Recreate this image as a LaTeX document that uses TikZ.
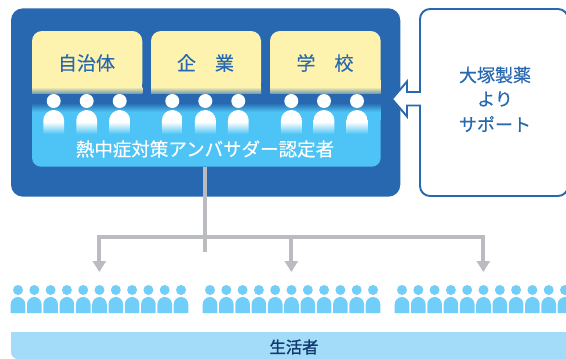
\documentclass[tikz,border=0pt]{standalone}
\usepackage{fontspec}
\setmainfont{Noto Sans CJK JP}[FakeBold=0.35]
\newfontfamily\heavyfont{Noto Sans CJK JP}[FakeBold=1.4]
\usetikzlibrary{arrows.meta}
\definecolor{deepblue}{HTML}{2868B0}
\definecolor{paleyellow}{HTML}{FDF3AE}
\definecolor{skyblue}{HTML}{4DC4F5}
\definecolor{crowdblue}{HTML}{70CEF9}
\definecolor{bandblue}{HTML}{A3DCF9}
\definecolor{linkgrey}{HTML}{BBBCC0}
\definecolor{navytext}{HTML}{123A70}
\tikzset{
  label text/.style={font=\fontsize{19}{21}\selectfont,text=deepblue,inner sep=0pt},
  side text/.style={font=\fontsize{18}{20}\selectfont,text=deepblue,inner sep=0pt},
  panel text/.style={font=\fontsize{18.5}{20}\selectfont,text=white,inner sep=0pt},
  band text/.style={font=\heavyfont\fontsize{16.3}{18}\selectfont,text=navytext,inner sep=0pt},
  link/.style={draw=linkgrey,line width=4.2pt},
  link arrow/.style={link,-{Triangle[width=13pt,length=11pt]}},
  support/.style={draw=deepblue,fill=white,line width=1.9pt,line join=miter}
}
\newcommand{\ambassador}[1]{%
  \fill[white] (#1,101) circle[radius=7pt];
  \shade[top color=white,bottom color=skyblue,middle color=white]
    (#1-10.4,134) -- (#1-10.4,120.4) arc[start angle=180,end angle=0,radius=10.4pt] -- (#1+10.4,134) -- cycle;
}
\newcommand{\citizen}[1]{%
  \fill[crowdblue] (#1,290) circle[radius=5pt];
  \fill[crowdblue] (#1-7.3,313) -- (#1-7.3,304.3) arc[start angle=180,end angle=0,radius=7.3pt] -- (#1+7.3,313) -- cycle;
}
\begin{document}
\begin{tikzpicture}[x=1pt,y=-1pt]
\useasboundingbox (0,0) rectangle (566,359);
\clip (0,0) rectangle (566,359);
% outer blue box
\fill[deepblue,rounded corners=12pt] (11,8.3) rectangle (400.3,196.7);
% yellow boxes
\foreach \l/\r in {32/142.3,151/261,270/380.7}{
  \fill[paleyellow,rounded corners=10pt] (\l,31) -- (\l,93) -- (\r,93) -- (\r,31) -- cycle;
  \fill[paleyellow] (\l,80) rectangle (\r,93);
  \shade[top color=paleyellow,bottom color=deepblue!60!paleyellow] (\l,87) rectangle (\r,93);
}
% light blue panel
\fill[skyblue,rounded corners=9pt] (32,104) -- (32,166.7) -- (380.7,166.7) -- (380.7,104) -- cycle;
\fill[skyblue] (32,104) rectangle (380.7,120);
\shade[top color=deepblue,bottom color=skyblue] (32,103) rectangle (380.7,112);
% people
\foreach \x in {53.7,86.7,119.7,172.3,205.3,238.3,291.3,324,357}{\ambassador{\x}}
% labels
\node[label text] (jichitai) at (86.5,63) {自治体};
\node[label text] (kigyo) at (205.5,63) {企　業};
\node[label text] (gakko) at (325,63) {学　校};
\node[panel text] (nintei) at (205,149) {熱中症対策アンバサダー認定者};
% support box and arrow
\draw[support] (420,92) [rounded corners=10pt] -- (420,9) -- (568,9) -- (568,196) -- (420,196) [sharp corners] -- (420,105.5) -- (407,105.5) -- (407,116.5) -- (392,99) -- (407,81.5) -- (407,92) -- cycle;
\node[side text] (otsuka) at (495,75) {大塚製薬};
\node[side text] (yori) at (495,99) {より};
\node[side text] (support) at (495,124) {サポート};
% connectors
\coordinate (trunkTop) at (205,166.7);
\coordinate (trunkEnd) at (205,252);
\coordinate (busL) at (99.3,237);
\coordinate (busM) at (291.3,237);
\coordinate (busR) at (483.3,237);
\coordinate (tipL) at (99.3,272);
\coordinate (tipM) at (291.3,272);
\coordinate (tipR) at (483.3,272);
\draw[link] (trunkTop) -- (trunkEnd);
\draw[link,line cap=rect] (busL) -- (busR);
\draw[link arrow] (busL) -- (tipL);
\draw[link arrow] (busM) -- (tipM);
\draw[link arrow] (busR) -- (tipR);
% crowd
\foreach \g in {0,192,384}{
  \foreach \i in {0,...,10}{\citizen{18+\i*16.3+\g}}
}
% band
\fill[bandblue] (11,332) -- (11,352) .. controls (11,356) and (14,359) .. (18,359) -- (566,359) -- (566,332) -- cycle;
\node[band text] (seikatsusha) at (294,347) {生活者};
\end{tikzpicture}
\end{document}
